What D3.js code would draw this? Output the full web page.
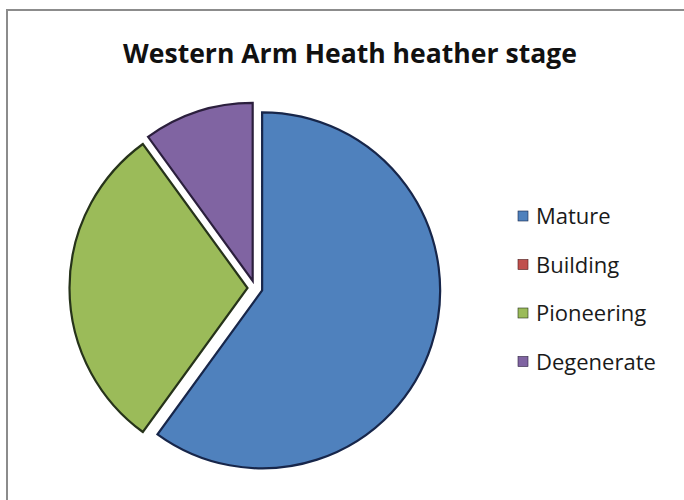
<!DOCTYPE html>
<html>
<head>
<meta charset="utf-8">
<script src="https://cdn.jsdelivr.net/npm/d3@7"></script>
<style>
  body { margin: 0; background: #fff; }
  svg { display: block; font-family: "Open Sans", "Noto Sans", sans-serif; }
</style>
</head>
<body>
<svg id="chart" width="684" height="500"></svg>
<script>
const categories = ["Mature", "Building", "Pioneering", "Degenerate"];
const values = [60, 0, 30, 10];
const colors = ["#4f81bd", "#c0504d", "#9bbb59", "#8064a2"];
const strokes = ["#17264a", "#4a1a19", "#26331a", "#2b1f3d"];

(() => {
  const width = 684;
  const height = 500;
  const cx = 255, cy = 288, radius = 178, explode = 7.5;

  const svg = d3.select("#chart");

  svg.append("rect")
    .attr("width", width)
    .attr("height", height)
    .attr("fill", "#fff");

  // frame (top and left edges visible)
  svg.append("path")
    .attr("d", `M7,${height} L7,10 L${width},10`)
    .attr("fill", "none")
    .attr("stroke", "#8c8c8c")
    .attr("stroke-width", 2);

  const title = svg.append("text")
    .attr("x", 350)
    .attr("y", 63)
    .attr("text-anchor", "middle")
    .attr("fill", "#111")
    .style("font-weight", "bold")
    .style("font-size", "24px")
    .text("Western Arm Heath heather stage");
  const tw = title.node().getComputedTextLength();
  title.style("font-size", (24 * 454 / tw).toFixed(2) + "px");

  const data = categories.map((c, i) => ({ name: c, value: values[i], color: colors[i], stroke: strokes[i] }));

  const pie = d3.pie().sort(null).value(d => d.value);
  const arc = d3.arc().innerRadius(0).outerRadius(radius);

  const g = svg.append("g").attr("transform", `translate(${cx},${cy})`);

  g.selectAll("path.slice")
    .data(pie(data).filter(d => d.data.value > 0))
    .join("path")
    .attr("class", "slice")
    .attr("transform", d => {
      const a = (d.startAngle + d.endAngle) / 2;
      return `translate(${Math.sin(a) * explode},${-Math.cos(a) * explode})`;
    })
    .attr("d", arc)
    .attr("fill", d => d.data.color)
    .attr("stroke", d => d.data.stroke)
    .attr("stroke-width", 2.2)
    .attr("stroke-linejoin", "miter");

  // legend
  const legend = svg.append("g").attr("transform", "translate(518,216)");
  const row = legend.selectAll("g")
    .data(data)
    .join("g")
    .attr("transform", (d, i) => `translate(0,${i * 48.5})`);

  row.append("rect")
    .attr("x", 0)
    .attr("y", -5)
    .attr("width", 10)
    .attr("height", 10)
    .attr("fill", d => d.color)
    .attr("stroke", d => d.stroke)
    .attr("stroke-width", 0.6);

  row.append("text")
    .attr("x", 18)
    .attr("y", 8)
    .attr("fill", "#1a1a1a")
    .style("font-size", "22px")
    .text(d => d.name);
})();
</script>
</body>
</html>
